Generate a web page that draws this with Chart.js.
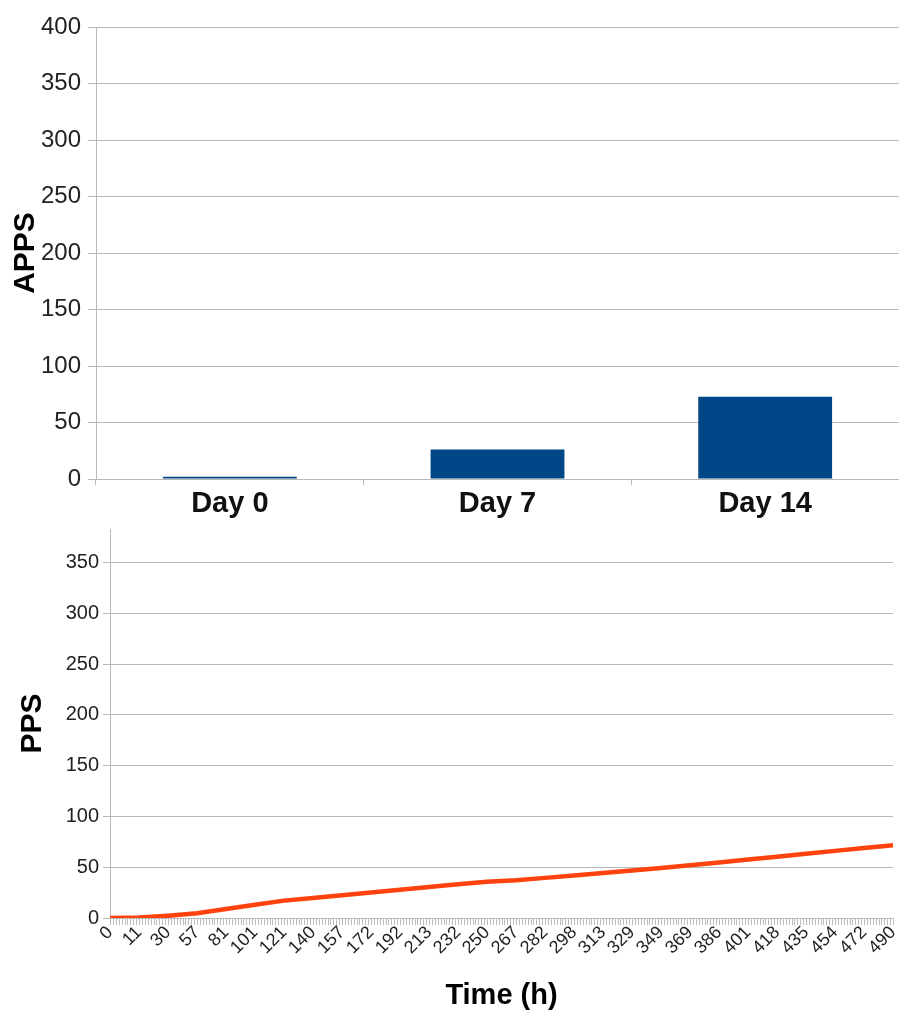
<!DOCTYPE html>
<html><head><meta charset="utf-8">
<script src="https://cdn.jsdelivr.net/npm/chart.js@4.4.1/dist/chart.umd.min.js"></script>
<style>
html,body{margin:0;padding:0;background:#fff;overflow:hidden}
#top{position:absolute;left:0;top:0;width:899px;height:522px}
#bot{position:absolute;left:0;top:522px;width:899px;height:488px}
</style></head><body>
<div id="top"><canvas id="c1"></canvas></div>
<div id="bot"><canvas id="c2"></canvas></div>
<script>
// ---- data ----
const dayLabels = ['Day 0', 'Day 7', 'Day 14'];
const appsValues = [2.1, 26.1, 72.7];
const timeLabels = ['0','11','30','57','81','101','121','140','157','172','192','213','232','250',
  '267','282','298','313','329','349','369','386','401','418','435','454','472','490'];
const ppsValues = [0, 0.5, 2.3, 4.6, 8.9, 13.1, 17.1, 19.7, 22.5, 25.1, 27.9, 30.6, 33.2, 35.8,
  37.2, 39.5, 41.9, 44.4, 46.7, 49.2, 51.9, 54.7, 57.6, 60.3, 63.2, 66.1, 68.9, 71.7];

const FONT = "'Liberation Sans', Arial, sans-serif";
const GRID = '#b9b9b9';
const TXT = '#222';
Chart.defaults.font.family = FONT;
Chart.defaults.animation = false;

// top bar chart
new Chart(document.getElementById('c1'), {
  type: 'bar',
  data: { labels: dayLabels, datasets: [{ data: appsValues, backgroundColor: '#004586',
    barPercentage: 0.5, categoryPercentage: 1.0 }] },
  options: {
    responsive: true, maintainAspectRatio: false,
    layout: { padding: { top: 27, right: 0, left: 0, bottom: 0 } },
    plugins: { legend: { display: false }, tooltip: { enabled: false } },
    scales: {
      x: {
        afterFit(s) { s.height = 43; },
        grid: { display: true, drawOnChartArea: false, drawTicks: true, tickLength: 6, color: GRID, offset: true },
        border: { color: GRID },
        ticks: { color: '#111', font: { size: 29, weight: 'bold' }, padding: 2 }
      },
      y: {
        min: 0, max: 400,
        afterFit(s) { s.width = 96; },
        grid: { color: GRID, tickLength: 8 },
        border: { color: GRID },
        ticks: { stepSize: 50, color: TXT, font: { size: 24 }, padding: 7 },
        title: { display: true, text: 'APPS', color: '#000', font: { size: 30, weight: 'bold' }, padding: { top: 8, bottom: 0 } }
      }
    }
  }
});

// minor ticks on bottom category axis
const minorTicks = {
  id: 'minorTicks',
  afterDraw(chart) {
    const x = chart.scales.x, ca = chart.chartArea, ctx = chart.ctx;
    ctx.save();
    ctx.strokeStyle = '#bcbcbc';
    ctx.lineWidth = 1;
    ctx.beginPath();
    for (let i = 0; i < timeLabels.length - 1; i++) {
      const a = x.getPixelForValue(i), b = x.getPixelForValue(i + 1);
      for (let k = 1; k < 10; k++) {
        const px = Math.round(a + (b - a) * k / 10) + 0.5;
        ctx.moveTo(px, ca.bottom);
        ctx.lineTo(px, ca.bottom + 7);
      }
    }
    ctx.stroke();
    ctx.restore();
  }
};

new Chart(document.getElementById('c2'), {
  type: 'line',
  data: { labels: timeLabels, datasets: [{ data: ppsValues, borderColor: '#ff420e', borderWidth: 4.5,
    pointRadius: 0, tension: 0, fill: false }] },
  options: {
    responsive: true, maintainAspectRatio: false,
    layout: { padding: { top: 7, right: 6, left: 0, bottom: 0 } },
    plugins: { legend: { display: false }, tooltip: { enabled: false } },
    scales: {
      x: {
        afterFit(s) { s.height = 92; s.paddingLeft = 0; s.paddingRight = 0; },
        grid: { display: true, drawOnChartArea: false, drawTicks: true, tickLength: 7, color: '#bdbdbd' },
        border: { color: GRID },
        ticks: { autoSkip: false, minRotation: 45, maxRotation: 45, color: TXT, font: { size: 18 }, padding: -3 },
        title: { display: true, text: 'Time (h)', color: '#000', font: { size: 29, weight: 'bold', lineHeight: 1 }, padding: { top: 0, bottom: 0 } }
      },
      y: {
        min: 0, max: 383,
        afterFit(s) { s.width = 110; s.paddingTop = 0; s.paddingBottom = 0; },
        afterBuildTicks(s) { s.ticks = s.ticks.filter(t => t.value % 50 === 0); },
        grid: { color: GRID, tickLength: 7 },
        border: { color: GRID },
        ticks: { stepSize: 50, color: TXT, font: { size: 20 }, padding: 4 },
        title: { display: true, text: 'PPS', color: '#000', font: { size: 30, weight: 'bold' }, padding: { top: 15, bottom: 0 } }
      }
    }
  },
  plugins: [minorTicks]
});
</script>
</body></html>
